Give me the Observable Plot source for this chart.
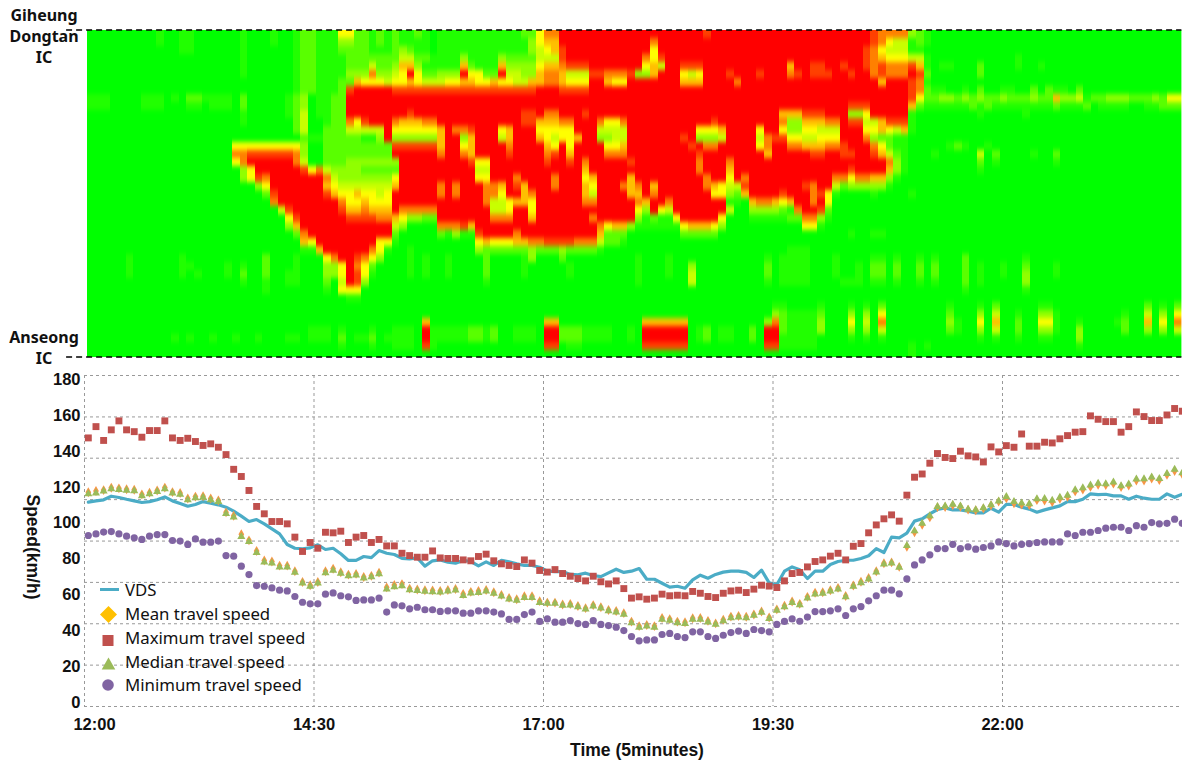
<!DOCTYPE html>
<html><head><meta charset="utf-8">
<script src="https://cdn.jsdelivr.net/npm/d3@7"></script>
<script src="https://cdn.jsdelivr.net/npm/@observablehq/plot@0.6"></script>
<style>
html,body{margin:0;padding:0;background:#fff;overflow:hidden;width:1182px;height:765px}
#page{position:relative;width:1182px;height:765px;overflow:hidden}
#top,#bottom{position:absolute;left:0}
#top{top:0}#bottom{top:365px}
.t{position:absolute;white-space:nowrap;color:#111}
.hl{font:700 16px "Noto Sans";transform:translate(-50%,-50%);left:44px}
.ax{font:700 17.5px "Liberation Sans"}
.lg{font:400 16.8px "Noto Sans";left:125px;transform:translateY(-50%)}
svg.ic{position:absolute;overflow:visible}
</style></head><body>
<div id="page"><div id="top"></div><div id="bottom"></div></div>
<svg width="0" height="0" style="position:absolute"><defs><filter id="vblur" color-interpolation-filters="sRGB"><feGaussianBlur stdDeviation="0 2.4"/><feComponentTransfer><feFuncA type="linear" slope="100"/></feComponentTransfer></filter></defs></svg>
<script>
const timeTicks=["14:30","17:00","19:30","22:00"];
const speedTicks=[0,20,40,60,80,100,120,140,160,180];
const seriesNames=["VDS","Mean travel speed","Maximum travel speed","Median travel speed","Minimum travel speed"];
const vds=[111.7,112.4,113,115,114.3,113.3,112.4,111.5,112,113,114.6,112.4,110.9,109.4,110.4,112,111.1,110.2,108.9,106.7,103.9,100.9,102,99.6,96.8,94,88.1,86,85.7,86.2,87.9,
85.3,86,82.9,79.2,79.2,81.4,80.8,84.7,83.2,82.5,80.4,80.1,80.6,76,79,79.5,78.2,77.7,79.2,78.6,76.2,78.4,76.4,79.2,78.4,77.3,76.4,76.4,75.4,73.2,73,73,71.4,71.2,72.1,70.8,70.2,72.3,
74.3,72.5,73.2,74.7,68.7,68.7,66.5,64.3,64.8,63.7,68.4,71,69.3,71.4,72.7,73.2,73.2,72.5,69.7,73.8,66.7,65.6,73.2,75.6,74,69.1,73.2,73.2,76.9,78.6,79.3,79.3,80.3,81.8,85.8,83.6,92.2,91.8,
94.4,101.1,102.4,105.2,107.6,108.5,107.4,107.4,106.6,105.7,105.7,108.3,106.1,110.5,110.4,108.9,107.8,106.1,107.4,108.5,109.6,112,112,113.3,116.3,115.9,116.1,115.2,115.2,113.3,115,113.9,113.3,113.3,116.3,114.4,116.1];
const maxSpeed=[147.5,153.8,146.1,152,157,152,151,147.9,151.6,151.6,157,147.5,146.1,147.3,145.5,143.3,144.2,142.3,138.2,130,126,118.2,109.3,105.2,100.9,100.9,99.6,92.2,84.2,89.2,86,
94.9,94.6,95.5,89.2,92.2,93.1,89.2,90.9,87.3,87.3,83.2,81.9,81,81,84.5,80.6,80.3,80.3,79.5,79,81.4,82.7,79,77.3,76.4,75.8,79.5,77.7,73.6,72.7,74.1,71.9,70.4,69.1,67.8,70.4,67.3,66.1,
67.8,63.5,58.2,58.9,57.6,58.2,60.4,59.5,59.8,59.5,61.9,60.9,59.1,58.5,60.9,62.2,62.6,61.3,63.2,65.4,64.9,64.1,67.8,71.9,72.5,75.6,78.6,79.5,81.6,83.2,79.5,87.1,88.6,94.6,99,102.4,104.6,101.1,
115.6,125.6,127.4,133.4,138.8,136.6,136,140.1,137.5,136.9,134.1,142.5,139.7,143.2,142.3,149.7,142.9,142.9,145.1,144.7,147,148.8,150.7,151,159.8,157.9,156.6,156.6,150.7,153.8,162,159.4,157.2,157.2,160.3,163.9,162.4];
const medianSpeed=[116.3,116.7,117.8,119.1,118.7,118.2,118,115.2,116.3,117.6,119.1,116.7,116,113,114.1,114.3,113,111.9,105.3,103.3,92.5,89.7,83.6,78.2,77.7,75.4,75.4,72.5,66.5,64.7,66.5,72.3,73.6,71.9,70.6,71,69.3,70,71.7,
63.2,64.5,65,62.8,62.4,61.9,61.7,61.5,62,62.6,59.6,60.9,61.3,62,60.8,59.3,57.6,56.9,58.5,58.5,55.7,55.2,55.2,54.1,54.3,53.3,52,53.7,52.6,51.1,
50.4,49.1,44.4,41.8,42.5,41.8,46.3,45.7,44.4,44,46.3,46.3,44.8,43.5,45.5,47.2,47.6,47.2,48.5,50.2,46.8,51.3,53.3,55.7,54.4,58.2,60.4,60.8,62,63.2,58.9,64.7,66.7,68.8,72.7,77.1,77.7,75.3,
87.5,95.7,99.9,104,109.2,109.4,110.4,109.4,107.7,107.4,108.5,110.2,112.2,114.8,112,111.1,110.7,113.5,113.7,112.6,114.4,115.4,118.5,119.6,121.1,122.2,121.9,122.8,120.8,121.7,124.5,124.7,125.6,124.8,127.6,130,128];
const meanSpeed=[117.2,117.9,118.4,119.7,119.4,118.9,118.6,116,117,118.2,119.8,117.3,116.8,113.7,114.8,115,113.7,112.6,106,104.1,93.8,90.4,84.5,79.2,78.6,76.3,76.3,73.2,67.2,65.4,67.2,73.2,74.6,72.6,71.3,71.7,70,70.6,72.4,
64.2,65.5,66,63.5,63,62.6,62.5,62.2,62.7,63.3,60.5,61.7,62.2,62.7,61.5,60,58.3,57.6,59.3,59.2,56.5,55.7,55.7,54.6,54.9,53.8,52.6,54.3,53.1,51.6,
51,49.8,45.1,42.6,43.2,42.6,47.1,46.5,45.1,44.7,47,47.1,45.5,44.1,46.1,47.9,48.2,47.8,49.1,50.7,47.4,51.9,53.9,56.3,55,58.9,61.2,61.5,62.6,63.9,59.4,65.2,67.3,69.4,73.2,77.6,78.1,75.6,
86.8,94.9,99.1,103.2,108.9,109,110,109.1,107.5,107.2,108.2,109.9,112,113.9,111.1,110.4,110.1,112.8,112.6,111.8,113.6,114.7,117.7,118.7,120.2,121.4,121.2,122,120.1,121,123.7,123.8,124.9,124,127,129,127.2];
const minSpeed=[93.1,94,95,95.3,94,92.7,91.8,90.9,92.7,93.6,93.6,90.3,90,88.1,91.2,89.4,89.4,90,81.9,81.6,76,71.3,65.2,64.8,63.9,62.6,62.2,59.1,55.9,55,55,
60.4,61.1,59.5,58.9,56.9,57.2,57.2,58.2,50.4,54.4,53.9,52.2,53.1,51.7,51.7,50.8,51.1,51.1,49.8,49.8,51.1,51.1,50.4,49.4,46.3,46.3,49,50.4,45.2,46.6,44.8,44.8,45.7,44,43.5,45.7,43.5,42.9,
42,40.1,36.8,34.4,34.9,34.9,37.9,38.5,36.8,36.2,39.4,39.4,36.8,35.7,37.5,39,39.8,38.5,40.7,40.1,39.4,43.5,45.2,46.6,45.3,47.6,50.7,50.7,51.1,52.2,48.5,52.2,53.5,56.7,59.5,62.6,62.6,60.6,
68.9,76.7,79.5,82.3,85.8,85.8,88.2,85.8,86.8,85.5,86.4,87.3,89.5,88.6,87.3,88.2,88.6,89.2,89.5,89.5,89.5,94,93.1,94.9,94.9,95.9,97.2,97.7,97.7,95.9,98.6,97.7,100.3,99.6,99.9,102.2,99.9];
// heat levels (0 free flow .. 9 congested), each token is level:endColumn, rows run from Giheung Dongtan IC down to Anseong IC
const heatRows=[
"0:9 1:10 0:12 1:14 0:20 1:21 0:24 1:25 0:27 1:28 2:30 1:33 5:35 2:37 1:38 2:39 1:40 2:41 1:43 2:44 1:45 0:46 1:57 2:59 5:60 7:62 9:81 8:82 9:103 8:104 7:108 3:109 2:110 1:111 0:144",
"0:9 1:10 0:12 1:14 0:20 1:21 0:24 1:25 0:27 1:28 2:30 1:33 3:35 2:37 1:38 2:39 1:40 2:41 1:45 0:46 1:58 3:59 5:60 6:62 9:74 7:75 9:103 8:104 7:105 5:106 4:108 1:109 2:110 1:111 0:144",
"0:12 1:14 0:20 1:21 0:27 1:28 2:30 1:33 2:37 1:40 2:41 3:42 2:43 1:45 0:46 1:58 3:59 4:60 5:61 6:62 8:63 9:74 5:75 9:102 8:103 7:104 5:105 4:108 1:110 0:144",
"0:20 1:21 0:27 1:28 2:30 1:34 2:40 2:41 4:43 2:45 1:49 3:50 1:54 3:55 2:59 4:62 8:63 9:73 7:74 5:75 8:76 9:102 8:103 7:104 6:105 5:108 4:110 1:111 0:122 1:123 0:144",
"0:20 1:21 0:27 1:28 2:30 1:34 2:37 4:38 2:40 3:41 6:43 3:44 1:49 6:50 2:51 1:54 6:55 3:59 5:60 6:62 7:63 8:66 9:73 5:74 6:75 4:76 9:78 8:81 9:92 6:93 9:95 8:97 9:99 8:100 9:102 8:103 7:104 8:105 7:108 8:109 6:110 1:111 0:112 1:114 0:117 2:118 0:122 1:123 0:125 1:126 0:144",
"0:20 1:21 0:27 1:28 2:30 1:34 3:37 7:38 3:40 4:41 5:42 9:43 5:44 2:46 3:49 9:50 5:52 2:54 9:55 4:57 3:59 6:60 7:62 6:63 4:66 8:68 7:71 8:72 3:74 6:75 9:78 5:79 4:80 5:81 9:84 8:85 9:88 8:89 9:92 7:93 8:94 9:95 8:98 9:100 8:101 9:103 7:104 8:105 7:108 9:109 8:110 2:111 0:117 2:118 0:144",
"0:27 1:28 2:30 1:33 2:35 6:36 5:39 4:40 5:42 6:43 5:44 4:47 5:49 6:51 5:53 6:54 5:56 4:58 6:60 7:62 6:63 5:66 9:68 6:69 5:71 9:78 6:81 9:85 7:86 9:104 6:105 9:108 8:109 7:110 1:111 0:144",
"0:27 1:28 2:30 1:33 2:34 8:35 9:40 8:59 9:62 8:66 9:108 8:109 7:110 2:111 1:113 0:115 1:116 0:117 2:118 0:120 1:122 0:124 2:125 0:126 2:127 1:129 0:130 2:131 0:144",
"1:3 0:7 1:10 0:11 1:12 0:13 2:15 1:19 0:20 2:21 0:26 1:27 2:28 3:29 0:30 1:32 2:34 9:108 8:109 5:110 2:112 3:114 2:115 3:116 2:117 3:118 2:120 3:121 2:124 3:125 2:127 6:128 3:130 4:131 1:132 2:134 3:137 2:140 3:141 2:142 5:144",
"1:3 0:7 1:10 0:13 1:15 0:16 1:19 0:20 2:21 0:26 1:27 2:28 3:29 0:30 1:32 2:34 9:100 8:103 9:108 6:109 2:110 1:116 2:117 1:118 2:119 1:127 2:128 1:131 2:132 0:133 1:137 0:139 1:141 2:144",
"0:20 1:21 0:26 1:27 2:28 4:29 0:30 1:32 2:34 9:42 8:43 9:57 8:59 9:60 7:62 9:65 8:66 9:91 6:94 8:97 9:100 3:102 5:103 9:108 1:109 0:117 1:118 0:123 1:124 0:144",
"0:20 1:21 0:27 2:28 4:29 0:31 1:32 2:34 7:35 5:36 8:37 9:40 7:41 6:44 7:46 9:57 8:59 6:62 7:64 9:67 7:68 5:70 7:71 9:82 8:83 9:91 7:92 3:94 6:97 7:99 9:100 8:102 4:104 6:105 8:108 1:109 0:144",
"0:27 2:28 4:29 0:31 2:34 4:39 9:40 5:46 6:47 9:48 7:50 8:51 9:54 5:55 6:56 9:59 5:64 9:67 4:71 9:80 5:83 6:84 9:88 5:89 9:91 5:92 3:94 5:96 4:99 9:102 5:104 6:105 5:106 4:107 6:108 1:109 0:144",
"0:28 2:29 1:31 2:36 1:38 3:39 9:40 3:46 6:47 9:49 3:50 6:51 9:54 4:55 6:56 9:59 6:60 5:61 4:62 5:64 6:65 9:67 3:69 4:71 9:78 8:79 9:80 3:83 4:84 9:88 4:89 7:90 8:92 5:94 4:96 5:99 9:102 7:103 3:104 2:106 1:108 0:144",
"0:19 5:28 3:29 0:31 2:40 8:46 6:47 9:49 5:50 6:51 9:55 7:56 9:60 6:61 5:62 9:63 5:64 9:68 5:70 6:71 9:79 8:80 9:81 7:83 9:88 5:89 7:90 9:92 7:94 6:97 7:99 8:100 9:103 7:104 5:105 2:106 1:108 0:113 1:114 2:115 1:116 0:118 1:119 0:144",
"0:19 7:21 8:27 7:28 3:29 0:31 2:40 9:46 7:47 9:49 7:50 6:51 9:55 8:56 9:60 7:61 8:62 9:63 6:64 9:68 7:71 9:80 8:81 9:89 6:90 9:95 8:97 9:99 8:101 9:103 8:104 6:105 4:106 2:107 1:108 0:111 1:112 0:117 4:118 0:119 2:120 0:124 1:125 0:127 2:128 0:144",
"0:19 5:20 7:21 9:27 7:28 4:29 0:31 2:34 3:41 9:50 8:51 5:53 9:60 8:61 9:63 8:64 9:65 7:66 9:71 8:72 9:80 7:81 9:84 7:85 9:105 7:106 3:107 1:108 0:117 2:118 0:119 1:120 0:127 1:128 0:144",
"0:20 3:21 5:22 9:28 8:29 5:30 7:31 4:32 3:36 2:41 9:51 4:53 9:65 6:66 9:80 7:81 9:84 6:85 9:100 8:101 9:105 6:106 3:107 1:108 0:117 1:118 0:144",
"0:20 3:21 5:22 8:23 7:24 9:31 7:32 4:33 3:40 5:41 9:51 5:53 9:56 7:57 9:61 7:62 9:65 5:66 6:67 9:71 6:72 9:81 7:82 9:84 5:85 9:86 7:87 9:98 7:100 5:101 7:103 6:105 3:106 1:107 0:144",
"0:22 3:23 5:24 9:31 6:32 5:33 4:40 6:41 9:46 7:47 9:48 7:49 9:52 7:54 6:55 9:56 8:57 6:58 9:61 7:62 9:65 6:66 5:67 9:70 7:71 6:72 7:73 9:74 6:75 9:81 7:82 6:83 5:84 4:86 8:87 9:94 8:95 7:96 9:98 4:99 2:100 3:105 1:106 0:144",
"0:23 2:24 8:25 9:31 8:32 6:33 5:35 6:36 5:38 4:39 5:40 9:46 7:47 9:48 7:49 9:52 7:54 5:55 9:57 6:58 7:59 9:65 6:66 4:67 9:71 6:73 9:74 7:75 9:82 5:84 3:85 2:86 6:87 9:91 8:92 9:95 7:96 8:97 5:98 1:99 0:103 1:104 0:108 1:109 0:144",
"0:24 7:25 9:33 7:34 5:36 6:37 5:40 9:52 7:53 4:55 5:56 6:58 5:59 9:65 7:67 9:72 7:73 6:74 9:76 7:77 9:84 1:86 0:87 6:88 7:90 6:91 5:92 6:93 9:95 7:96 9:97 5:98 0:144",
"0:25 4:26 8:27 9:33 8:34 6:36 7:37 6:40 9:41 7:46 9:53 4:55 5:56 9:58 5:59 9:72 5:73 3:74 9:75 5:76 4:77 9:84 4:85 0:87 3:91 2:92 1:93 7:94 9:96 8:97 2:98 0:144",
"0:26 5:27 8:28 9:34 8:38 7:40 6:41 5:42 3:44 2:46 9:53 7:56 9:58 6:59 9:66 7:67 9:72 3:73 1:74 2:75 1:77 5:78 9:83 5:84 0:87 1:92 2:94 7:96 3:97 1:98 0:144",
"0:26 3:27 6:28 9:40 4:41 3:42 0:46 7:49 8:50 6:51 9:67 7:68 5:69 6:71 3:72 1:78 5:79 6:82 5:83 3:84 0:94 5:96 1:97 0:144",
"0:27 2:28 7:29 9:40 2:41 0:46 2:47 1:48 3:49 1:51 8:52 9:56 7:57 9:67 6:68 2:71 0:78 2:83 0:100 1:101 0:103 1:105 0:144",
"0:28 6:29 5:30 9:38 5:40 1:41 0:51 5:52 6:53 5:56 6:58 7:60 8:64 7:67 4:68 2:70 1:71 0:144",
"0:28 1:30 6:31 9:37 7:38 5:39 1:40 0:42 1:43 0:51 3:52 2:58 3:59 2:62 3:63 2:67 1:68 0:92 1:95 0:144",
"0:5 1:6 0:12 1:13 0:23 2:24 0:27 1:28 0:31 5:32 7:33 9:35 8:36 7:37 5:38 3:39 0:42 1:43 0:44 1:45 0:47 1:48 0:52 2:53 0:57 1:58 3:59 0:62 2:63 0:72 1:73 0:76 1:77 0:89 1:90 0:91 1:95 0:98 1:99 0:103 1:105 0:106 1:107 0:109 1:110 0:111 1:112 0:115 2:116 0:123 1:124 0:144",
"0:5 1:6 0:12 1:14 0:18 1:19 0:20 1:21 0:23 2:24 0:27 1:28 0:31 3:33 5:34 9:35 7:36 5:37 2:38 0:42 1:43 0:44 1:45 0:47 1:48 0:52 2:53 0:57 1:58 0:63 1:64 0:72 1:73 0:76 1:77 0:79 3:80 0:89 2:90 0:91 1:95 0:98 1:99 0:101 1:102 0:103 2:105 0:106 2:107 0:109 2:110 0:111 2:112 0:115 2:116 0:117 1:118 0:120 1:121 0:123 2:124 0:127 1:128 0:144",
"0:5 1:6 0:12 1:13 0:14 1:15 0:18 1:19 0:20 2:21 0:23 2:24 0:26 1:28 0:31 3:33 5:34 9:35 8:36 5:37 1:38 0:42 1:43 0:44 1:45 0:47 1:48 0:52 2:53 0:57 1:58 0:63 1:64 0:72 1:73 0:76 1:77 0:79 4:80 0:89 2:90 0:91 1:95 0:98 1:99 0:101 1:102 0:103 2:105 0:106 2:107 0:109 2:110 0:111 2:112 0:115 2:116 0:117 1:118 0:120 1:121 0:123 3:124 0:127 1:128 0:144",
"0:20 1:21 0:23 1:24 0:26 1:28 0:31 2:32 0:33 4:34 9:35 8:36 3:37 0:52 1:53 0:72 1:73 0:79 4:80 0:89 1:90 0:91 1:95 0:99 1:102 0:103 1:105 0:106 1:107 0:109 1:110 0:111 1:112 0:115 2:116 0:117 1:118 0:123 3:124 0:144",
"0:23 1:24 0:31 1:32 0:33 5:36 0:115 1:116 0:123 1:124 0:144",
"0:34 1:36 0:144",
"0:90 1:92 0:96 1:97 0:100 1:101 0:102 1:103 0:104 2:105 0:113 1:114 0:117 1:118 0:119 2:120 0:125 1:127 0:139 2:140 0:141 1:142 0:143 2:144",
"0:90 3:91 2:92 1:96 2:97 0:100 3:101 0:102 3:103 0:104 5:105 0:113 2:114 0:117 3:118 0:119 4:120 0:122 1:123 0:125 3:127 1:128 0:136 1:137 0:139 4:140 0:141 3:142 0:143 5:144",
"0:44 6:45 0:60 6:62 0:73 6:79 0:89 3:90 7:91 2:92 1:96 3:97 0:100 5:101 0:102 4:103 0:104 7:105 0:113 3:114 1:115 0:117 5:118 0:119 6:120 0:122 2:123 0:125 5:127 1:128 0:130 1:131 0:135 1:136 2:137 0:139 6:140 0:141 5:142 0:143 7:144",
"0:29 1:32 0:33 1:34 0:37 1:38 0:40 1:43 0:44 9:45 1:50 2:52 1:53 2:54 0:56 1:59 0:60 9:62 2:65 1:69 0:71 1:72 0:73 9:79 0:80 1:81 2:82 0:83 1:85 0:87 2:88 0:89 9:91 2:92 1:96 3:97 0:100 3:101 0:102 3:103 0:104 4:105 0:113 2:114 1:115 0:117 3:118 0:119 4:120 0:122 2:123 0:125 3:127 1:128 0:130 3:131 0:136 2:137 0:139 3:140 0:141 3:142 0:143 4:144",
"0:11 1:12 0:13 1:14 0:16 1:17 0:19 1:20 0:22 1:23 0:26 1:28 0:29 1:32 0:33 2:34 0:35 1:37 2:38 0:39 1:43 0:44 9:45 1:50 2:52 1:53 2:54 0:56 1:59 0:60 9:62 2:65 1:69 0:71 1:72 0:73 9:79 0:80 1:81 2:82 0:83 1:85 0:87 2:88 0:89 9:91 1:96 0:100 1:101 0:102 1:103 0:104 1:105 0:117 1:118 0:119 1:120 0:122 1:123 0:125 1:127 0:130 3:131 0:144",
"0:33 1:34 0:37 1:38 0:40 1:43 0:44 8:45 1:46 0:60 8:62 0:63 1:65 0:73 8:79 0:89 8:91 1:96 0:108 1:109 0:110 1:111 0:130 1:131 0:144",
"0:108 1:109 0:144"
];
const heatLevels=heatRows.flatMap(row=>{
  const out=new Array(144).fill(0);let s=0;
  for(const tok of row.split(" ")){const [l,e]=tok.split(":").map(Number);for(let i=s;i<e;i++)out[i]=l;s=Math.max(s,e);}
  return out;
});
const heat=Plot.plot({
  width:1182,height:365,marginLeft:87,marginRight:0.6,marginTop:30,marginBottom:8,
  x:{domain:[0,144],axis:null},y:{domain:[41,0],axis:null},
  color:{type:"linear",domain:[0.4,5,9],range:["#00ff00","#ffff00","#ff0000"],clamp:true},
  marks:[
    Plot.raster(heatLevels,{width:144,height:41,x1:0,x2:144,y1:0,y2:41,fill:d=>d,imageRendering:"pixelated",imageFilter:"url(#vblur)",clip:"frame"}),
    Plot.ruleY([0,41],{x1:-2.75,x2:144,stroke:"#000",strokeWidth:1.5,strokeDasharray:"6,4",dy:-0.5})
  ]
});
document.getElementById("top").append(heat);

const idx=d3.range(144);
const gridX=[-0.5,29.5,59.5,89.5,119.5];
const gridY=[-2.23,20.83,43.9,66.96,90,113.1,136.2,159.2,182.3];
const chart=Plot.plot({
  width:1182,height:400,marginLeft:84,marginRight:-3.6,marginTop:10,marginBottom:59,
  style:{fontFamily:"Liberation Sans",fontWeight:700,fontSize:"16.5px",color:"#111",background:"transparent"},
  x:{domain:[-0.5,143.5],axis:null},
  y:{domain:[-2.23,182.3],axis:null},
  marks:[
    Plot.ruleY(gridY,{stroke:"#999",strokeWidth:1,strokeDasharray:"3,3"}),
    Plot.ruleX(gridX,{stroke:"#999",strokeWidth:1,strokeDasharray:"3,3"}),
    Plot.axisY({ticks:speedTicks,tickSize:0,tickPadding:4,label:null,tickFormat:d=>d}),
    Plot.axisX({ticks:[29.5,59.5,89.5,119.5],tickSize:0,tickPadding:12,label:null,tickFormat:(d,i)=>timeTicks[i]}),
    Plot.axisX({ticks:[-0.5],tickSize:0,tickPadding:12,label:null,tickFormat:()=>"12:00",dx:10}),
    Plot.line(idx,{x:d=>d,y:d=>vds[d],stroke:"#4bacc6",strokeWidth:3.2}),
    Plot.dot(idx,{x:d=>d,y:d=>meanSpeed[d],symbol:"diamond",fill:"#f79646",r:3}),
    Plot.dot(idx,{x:d=>d,y:d=>maxSpeed[d],symbol:"square",fill:"#c0504d",r:3.9}),
    Plot.dot(idx,{x:d=>d,y:d=>medianSpeed[d],symbol:"triangle",fill:"#9bbb59",r:3}),
    Plot.dot(idx,{x:d=>d,y:d=>minSpeed[d],symbol:"circle",fill:"#8064a2",r:3.6})
  ]
});
document.getElementById("bottom").append(chart);

const page=document.getElementById("page");
function text(cls,str,css){const d=document.createElement("div");d.className="t "+cls;d.textContent=str;d.style.cssText=css;page.append(d);}
[["Giheung",15],["Dongtan",36],["IC",57],["Anseong",337],["IC",358]].forEach(([s,y])=>text("hl",s,`top:${y}px`));
text("ax","Time (5minutes)","left:637px;top:750px;transform:translate(-50%,-50%)");
text("ax","Speed(km/h)","left:32px;top:547px;transform:translate(-50%,-50%) rotate(90deg)");
const legendY=[589,613,637,661,684];
seriesNames.forEach((s,i)=>text("lg",s,`top:${legendY[i]}px`));
const ic=document.createElementNS("http://www.w3.org/2000/svg","svg");
ic.setAttribute("class","ic");ic.setAttribute("width","1182");ic.setAttribute("height","765");ic.style.cssText="left:0;top:0;pointer-events:none";
ic.innerHTML=`<line x1="100" x2="119" y1="589.5" y2="589.5" stroke="#4bacc6" stroke-width="3"/>
<path d="M108.5 606l8.5 8.5-8.5 8.5-8.5-8.5z" fill="#ffc000"/>
<rect x="102.5" y="635" width="11" height="11" fill="#c0504d"/>
<path d="M108.5 657.5l6.8 12h-13.6z" fill="#9bbb59"/>
<circle cx="108" cy="685" r="5.8" fill="#8064a2"/>`;
page.append(ic);
</script></body></html>
